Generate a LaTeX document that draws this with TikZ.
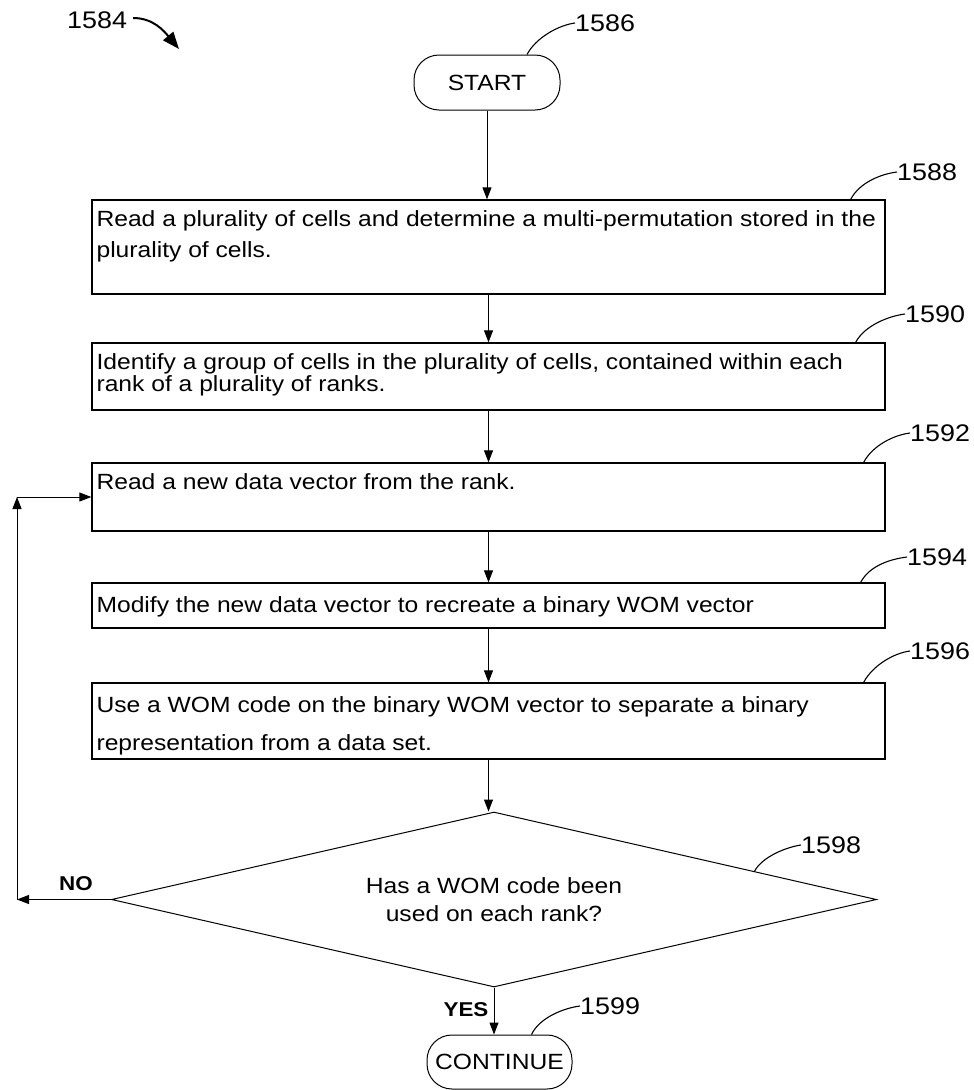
\documentclass[tikz,border=0pt]{standalone}
\usepackage{fontspec}
\setmainfont{Liberation Sans}[FakeStretch=1.12]
\usetikzlibrary{arrows.meta,shapes.geometric,calc}

\begin{document}
\begin{tikzpicture}[x=1pt,y=-1pt,
    stepbox/.style={draw,line width=1.3pt,minimum width=793pt,inner sep=0pt},
    steptext/.style={anchor=north west,align=left,inner sep=0pt},
    term/.style={draw,line width=1pt,rounded corners=25pt,minimum width=146pt,minimum height=55pt,
        inner sep=0pt,font=\fontsize{22}{26}\selectfont},
    arr/.style={line width=1pt,-{Triangle[length=12pt,width=9pt]}},
    lead/.style={line width=1.1pt},
    refnum/.style={anchor=west,inner sep=0pt,font=\fontsize{24}{28}\selectfont},
    yn/.style={inner sep=0pt,font=\fontsize{20}{24}\selectfont\bfseries}]
    \useasboundingbox (0,0) rectangle (974,1090);

    \node[term] (start) at (487,82.5) {START};
    \node[stepbox,minimum height=94pt] (b1588) at (488.5,247) {};
    \node[stepbox,minimum height=67pt] (b1590) at (488.5,376.5) {};
    \node[stepbox,minimum height=68pt] (b1592) at (488.5,497) {};
    \node[stepbox,minimum height=45pt] (b1594) at (488.5,605.5) {};
    \node[stepbox,minimum height=76pt] (b1596) at (488.5,721) {};
    \node[draw,diamond,shape aspect=4.37,line width=1pt,minimum width=765pt,minimum height=175pt,
        inner sep=0pt,align=center,font=\fontsize{22}{28}\selectfont] (d1598) at (494,899.5)
        {Has a WOM code been\\used on each rank?};
    \node[term,minimum width=145pt,minimum height=54pt] (c1599) at (499.5,1062) {CONTINUE};

    % box texts
    \node[steptext,font=\fontsize{22}{31}\selectfont] (t1588) at ([xshift=5pt,yshift=-11pt]b1588.north west)
        {Read a plurality of cells and determine a multi-permutation stored in the\\plurality of cells.};
    \node[steptext,font=\fontsize{22}{20}\selectfont] (t1590) at ([xshift=5pt,yshift=-11pt]b1590.north west)
        {Identify a group of cells in the plurality of cells, contained within each\\rank of a plurality of ranks.};
    \node[steptext,font=\fontsize{22}{26}\selectfont] (t1592) at ([xshift=5pt,yshift=-11pt]b1592.north west)
        {Read a new data vector from the rank.};
    \node[steptext,font=\fontsize{22}{26}\selectfont] (t1594) at ([xshift=5pt,yshift=-14pt]b1594.north west)
        {Modify the new data vector to recreate a binary WOM vector};
    \node[steptext,font=\fontsize{22}{38}\selectfont] (t1596) at ([xshift=5pt,yshift=-14pt]b1596.north west)
        {Use a WOM code on the binary WOM vector to separate a binary\\representation from a data set.};

    % flow
    \draw[arr] (start.south) -- (start.south |- b1588.north);
    \draw[arr] (b1588.south) -- (b1590.north);
    \draw[arr] (b1590.south) -- (b1592.north);
    \draw[arr] (b1592.south) -- (b1594.north);
    \draw[arr] (b1594.south) -- (b1596.north);
    \draw[arr] (b1596.south) -- (b1596.south |- d1598.north);
    \draw[arr] (d1598.south) -- (d1598.south |- c1599.north);

    \coordinate (nocorner) at (17,899.5);
    \coordinate (upcorner) at (17,497);
    \draw[arr] (d1598.west) -- (nocorner);
    \draw[arr] (nocorner) -- (upcorner);
    \draw[arr] (upcorner) -- (b1592.west);

    \node[yn] (no) at (76,884) {NO};
    \node[yn] (yes) at (466,1010) {YES};

    % reference numerals
    \node[refnum] (r1584) at (67,20) {1584};
    \coordinate (p1584) at (179,49);
    \draw[line width=2pt,-{Triangle[length=17pt,width=13pt]}] ([xshift=6pt,yshift=2pt]r1584.east)
        .. controls +(20,0) and +(-15,-18) .. (p1584);

    \node[refnum] (r1586) at (575,23) {1586};
    \draw[lead] ([xshift=40pt]start.north) .. controls +(9,-17) and +(-16,2) .. (r1586.west);

    \node[refnum] (r1588) at (897,172) {1588};
    \draw[lead] ([xshift=-35pt]b1588.north east) .. controls +(9,-17) and +(-16,2) .. (r1588.west);

    \node[refnum] (r1590) at (905,314) {1590};
    \draw[lead] ([xshift=-30pt]b1590.north east) .. controls +(9,-17) and +(-16,2) .. (r1590.west);

    \node[refnum] (r1592) at (910,433) {1592};
    \draw[lead] ([xshift=-22pt]b1592.north east) .. controls +(9,-17) and +(-16,2) .. (r1592.west);

    \node[refnum] (r1594) at (907,557) {1594};
    \draw[lead] ([xshift=-25pt]b1594.north east) .. controls +(9,-17) and +(-16,2) .. (r1594.west);

    \node[refnum] (r1596) at (910,651) {1596};
    \draw[lead] ([xshift=-22pt]b1596.north east) .. controls +(9,-17) and +(-16,2) .. (r1596.west);

    \node[refnum] (r1598) at (801,845) {1598};
    \draw[lead] ($(d1598.north)!0.68!(d1598.east)$) .. controls +(8,-15) and +(-14,2) .. (r1598.west);

    \node[refnum] (r1599) at (580,1006) {1599};
    \draw[lead] ([xshift=32pt]c1599.north) .. controls +(8,-17) and +(-16,2) .. (r1599.west);
\end{tikzpicture}
\end{document}
